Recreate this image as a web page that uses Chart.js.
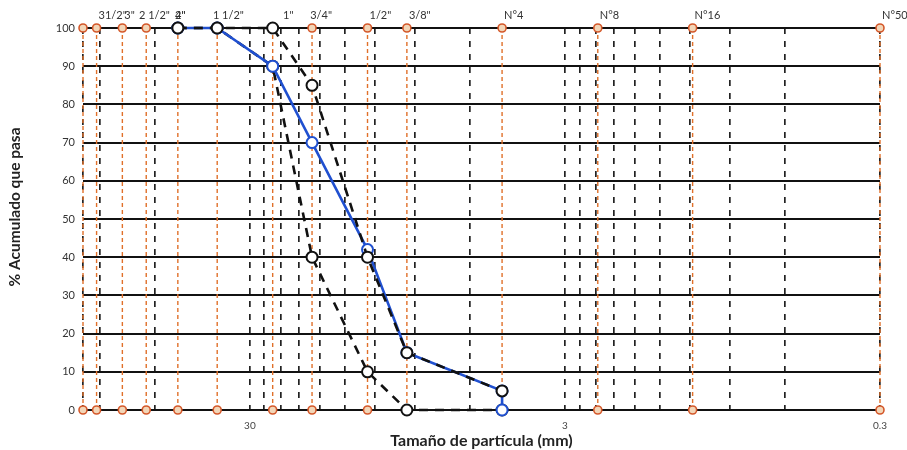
<!DOCTYPE html>
<html><head><meta charset="utf-8">
<script src="https://cdn.jsdelivr.net/npm/chart.js@4.4.1/dist/chart.umd.min.js"></script>
<style>html,body{margin:0;padding:0;background:#fff}</style>
</head><body>
<canvas id="c" width="907" height="450"></canvas>
<script>
// Sieve names and openings (mm)
const sieveNames = ['4"', '31/2"', '3"', '2 1/2"', '2"', '1 1/2"', '1"', '3/4"', '1/2"', '3/8"', 'N°4', 'N°8', 'N°16', 'N°50'];
const sieveSizes = [101.6, 92, 76.2, 64, 50.8, 38.1, 25.4, 19.05, 12.7, 9.525, 4.75, 2.36, 1.18, 0.3];
// value (mm) at which each top label starts (the 4" label sits over the 2" one)
const labelAnchors = [52.6, 92, 76.2, 68.5, 52.6, 39.9, 23.9, 19.6, 12.7, 9.525, 4.75, 2.36, 1.18, 0.3];

// Sample gradation (blue)
const sampleSizes = [50.8, 38.1, 25.4, 19.05, 12.7, 9.525, 4.75, 4.75];
const samplePass = [100, 100, 90, 70, 42, 15, 5, 0];
// Upper limit (black dashed)
const upperSizes = [50.8, 38.1, 25.4, 19.05, 12.7, 9.525, 4.75];
const upperPass = [100, 100, 100, 85, 40, 15, 5];
// Lower limit (black dashed)
const lowerSizes = [50.8, 38.1, 25.4, 19.05, 12.7, 9.525, 4.75];
const lowerPass = [100, 100, 90, 40, 10, 0, 0];

// Axis grid values (log axis, Excel-style minor lines) and labelled ticks
const xGridValues = [0.3, 0.6, 0.9, 1.2, 1.5, 1.8, 2.1, 2.4, 2.7, 3, 6, 9, 12, 15, 18, 21, 24, 27, 30, 60, 90, 101.6];
const xTickLabels = {'0.3': '0.3', '3': '3', '30': '30'};
const xMin = 0.3, xMax = 101.6;
const yMin = 0, yMax = 100, yStep = 10;
const xTitle = 'Tamaño de partícula (mm)';
const yTitle = '% Acumulado que pasa';

const pts = (xs, ys) => xs.map((x, i) => ({x: x, y: ys[i]}));
const FONT = 'Lato, "Liberation Sans", sans-serif';

Chart.defaults.font.family = FONT;
Chart.defaults.color = '#333';

const sieveDatasets = sieveSizes.map((s) => ({
  label: 'sieve',
  data: [{x: s, y: 0}, {x: s, y: 100}],
  borderColor: '#e0702a',
  borderWidth: 1.4,
  borderDash: [4, 3],
  pointRadius: 4,
  pointBorderWidth: 1.6,
  pointBorderColor: '#d4582a',
  pointBackgroundColor: '#f2d6b8',
  clip: false,
  order: 3
}));

const blackPoint = {
  pointRadius: 5.5,
  pointBorderWidth: 2,
  pointBorderColor: '#111',
  pointBackgroundColor: '#fff'
};

const datasets = [
  Object.assign({label: 'Límite superior', data: pts(upperSizes, upperPass), borderColor: '#111', borderWidth: 2.6, borderDash: [9, 7], clip: false, order: 0}, blackPoint),
  {label: 'Muestra', data: pts(sampleSizes, samplePass), borderColor: '#2050d0', borderWidth: 2.6,
   pointRadius: 5.5, pointBorderWidth: 2, pointBorderColor: '#2050d0', pointBackgroundColor: '#fff', clip: false, order: 1},
  Object.assign({label: 'Límite inferior', data: pts(lowerSizes, lowerPass), borderColor: '#111', borderWidth: 2.6, borderDash: [9, 7], clip: false, order: 2}, blackPoint)
].concat(sieveDatasets);

const textPlugin = {
  id: 'texts',
  afterDraw(chart) {
    const ctx = chart.ctx, xs = chart.scales.x, ca = chart.chartArea;
    ctx.save();
    ctx.font = '11px ' + FONT;
    ctx.fillStyle = '#333';
    ctx.textAlign = 'left';
    ctx.textBaseline = 'alphabetic';
    sieveNames.forEach((n, i) => {
      ctx.fillText(n, xs.getPixelForValue(labelAnchors[i]) + 2, 19);
    });
    // axis titles
    ctx.fillStyle = '#222';
    ctx.font = 'bold 16px ' + FONT;
    ctx.textAlign = 'center';
    ctx.textBaseline = 'middle';
    ctx.fillText(xTitle, (ca.left + ca.right) / 2, 441);
    ctx.translate(15, 207);
    ctx.rotate(-Math.PI / 2);
    ctx.font = 'bold 15.5px ' + FONT;
    ctx.fillText(yTitle, 0, 0);
    ctx.restore();
  }
};

new Chart(document.getElementById('c'), {
  type: 'line',
  data: {datasets: datasets},
  plugins: [textPlugin],
  options: {
    responsive: false,
    animation: false,
    devicePixelRatio: 1,
    layout: {padding: {top: 28, right: 27, left: 0, bottom: 0}},
    plugins: {legend: {display: false}, tooltip: {enabled: false}},
    elements: {line: {tension: 0}},
    scales: {
      x: {
        type: 'logarithmic',
        reverse: true,
        min: xMin,
        max: xMax,
        afterBuildTicks(scale) { scale.ticks = xGridValues.map(v => ({value: v})); },
        afterFit(scale) { scale.height = 40; },
        ticks: {
          autoSkip: false, maxRotation: 0, padding: 10,
          font: {size: 10}, color: '#444',
          callback(v) { return xTickLabels[String(v)] || ''; }
        },
        grid: {color: '#222', lineWidth: 1.7, drawTicks: false},
        border: {display: false, dash: [6, 7]}
      },
      y: {
        min: yMin, max: yMax,
        afterFit(scale) { scale.width = 83; },
        ticks: {stepSize: yStep, padding: 8, font: {size: 11}, color: '#333'},
        grid: {color: '#111', lineWidth: 2, drawTicks: false},
        border: {display: false}
      }
    }
  }
});
</script>
</body></html>
